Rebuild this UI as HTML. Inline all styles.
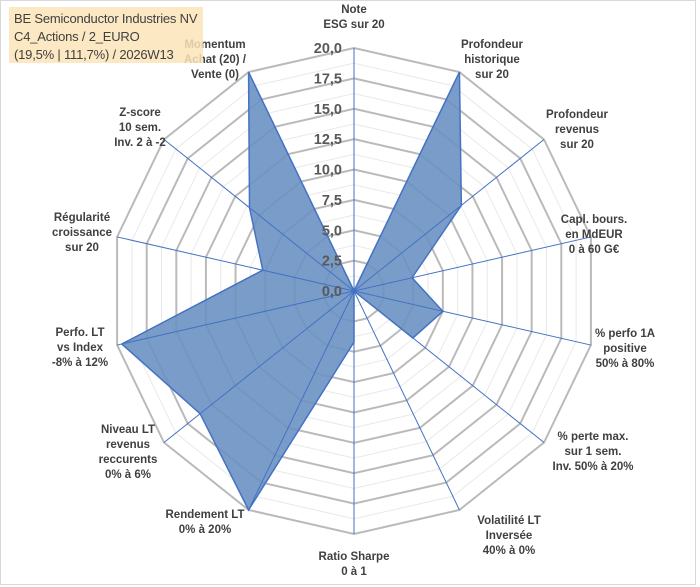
<!DOCTYPE html>
<html><head><meta charset="utf-8"><style>
body{margin:0;background:#fff;}
#wrap{position:relative;width:700px;height:587px;overflow:hidden;font-family:"Liberation Sans",sans-serif;}
#frame{position:absolute;left:0;top:0;width:696px;height:585px;border:1px solid #d9d9d9;box-sizing:border-box;}
.lbl{position:absolute;transform:translateX(-50%);text-align:center;font-weight:bold;font-size:11.5px;line-height:15px;color:#404040;white-space:nowrap;}
#title{position:absolute;left:9px;top:7px;width:194px;height:56px;background:rgba(252,228,184,0.85);font-size:13px;line-height:18px;color:#404040;padding:3px 0 0 5px;box-sizing:border-box;white-space:nowrap;letter-spacing:-0.2px;}
</style></head><body>
<div id="wrap">
<div id="frame"></div>
<svg id="svg" width="700" height="587" style="position:absolute;left:0;top:0"></svg>
<div class="lbl" style="left:354px;top:3px">Note<br>ESG sur 20</div>
<div class="lbl" style="left:492px;top:38px">Profondeur<br>historique<br>sur 20</div>
<div class="lbl" style="left:577px;top:108px">Profondeur<br>revenus<br>sur 20</div>
<div class="lbl" style="left:594px;top:213px">Capl. bours.<br>en MdEUR<br>0 à 60 G€</div>
<div class="lbl" style="left:625px;top:327px">% perfo 1A<br>positive<br>50% à 80%</div>
<div class="lbl" style="left:593px;top:430px">% perte max.<br>sur 1 sem.<br>Inv. 50% à 20%</div>
<div class="lbl" style="left:509px;top:514px">Volatilité LT<br>Inversée<br>40% à 0%</div>
<div class="lbl" style="left:354px;top:550px">Ratio Sharpe<br>0 à 1</div>
<div class="lbl" style="left:205px;top:508px">Rendement LT<br>0% à 20%</div>
<div class="lbl" style="left:128px;top:423px">Niveau LT<br>revenus<br>reccurents<br>0% à 6%</div>
<div class="lbl" style="left:80px;top:326px">Perfo. LT<br>vs Index<br>-8% à 12%</div>
<div class="lbl" style="left:82px;top:211px">Régularité<br>croissance<br>sur 20</div>
<div class="lbl" style="left:140px;top:106px">Z-score<br>10 sem.<br>Inv. 2 à -2</div>
<div class="lbl" style="left:215px;top:38px">Momentum<br>Achat (20) /<br>Vente (0)</div>
<div id="title">BE Semiconductor Industries NV<br>C4_Actions / 2_EURO<br>(19,5% | 111,7%) / 2026W13</div>
</div>
<script>
const categories=["Note ESG","Profondeur historique","Profondeur revenus","Capl. bours.","% perfo 1A","% perte max.","Volatilité LT","Ratio Sharpe","Rendement LT","Niveau LT","Perfo. LT","Régularité","Z-score","Momentum"];
const values=[0,20,11.3,4.9,7.5,6.2,0,4.2,20,16.2,19.6,7.7,11,20];
const tickValues=[0,2.5,5,7.5,10,12.5,15,17.5,20];
const tickLabels=["0,0","2,5","5,0","7,5","10,0","12,5","15,0","17,5","20,0"];
const maxVal=20;
const cx=354,cy=291,R=243;
const svg=document.getElementById('svg');
const NS="http://www.w3.org/2000/svg";
const n=categories.length;
function ang(i){return i*2*Math.PI/n;}
function pt(i,v){const r=v/maxVal*R;return [cx+r*Math.sin(ang(i)),cy-r*Math.cos(ang(i))];}
function mk(tag,attrs){const e=document.createElementNS(NS,tag);for(const k in attrs)e.setAttribute(k,attrs[k]);svg.appendChild(e);return e;}
for(let k=0;k<tickValues.length-1;k++){
  const v=(tickValues[k]+tickValues[k+1])/2;
  const p=[];for(let i=0;i<n;i++)p.push(pt(i,v).join(','));
  const e=mk('polygon',{points:p.join(' '),fill:'none',stroke:'#e9e9e9','stroke-width':1});
  
  
}
for(let k=1;k<tickValues.length;k++){
  const p=[];for(let i=0;i<n;i++)p.push(pt(i,tickValues[k]).join(','));
  const e=mk('polygon',{points:p.join(' '),fill:'none',stroke:'#bababa','stroke-width':2});
  
  
}
const sp=[];for(let i=0;i<n;i++)sp.push(pt(i,values[i]).join(','));
const poly=mk('polygon',{points:sp.join(' '),fill:'#6a92c2','fill-opacity':0.9,stroke:'#4472c4','stroke-width':1.5});


for(let i=0;i<n;i++){
  const [x,y]=pt(i,maxVal);
  const e=mk('line',{x1:cx,y1:cy,x2:x,y2:y,stroke:'#4472c4','stroke-width':1});
  
  
}
for(let k=0;k<tickValues.length;k++){
  const y=cy-tickValues[k]/maxVal*R;
  const t=mk('text',{x:cx-12,y:y+5,'text-anchor':'end','font-family':'Liberation Sans, sans-serif','font-size':14.5,'font-weight':'bold',fill:'#595959'});
  t.textContent=tickLabels[k];
  
  
}
</script>
</body></html>
